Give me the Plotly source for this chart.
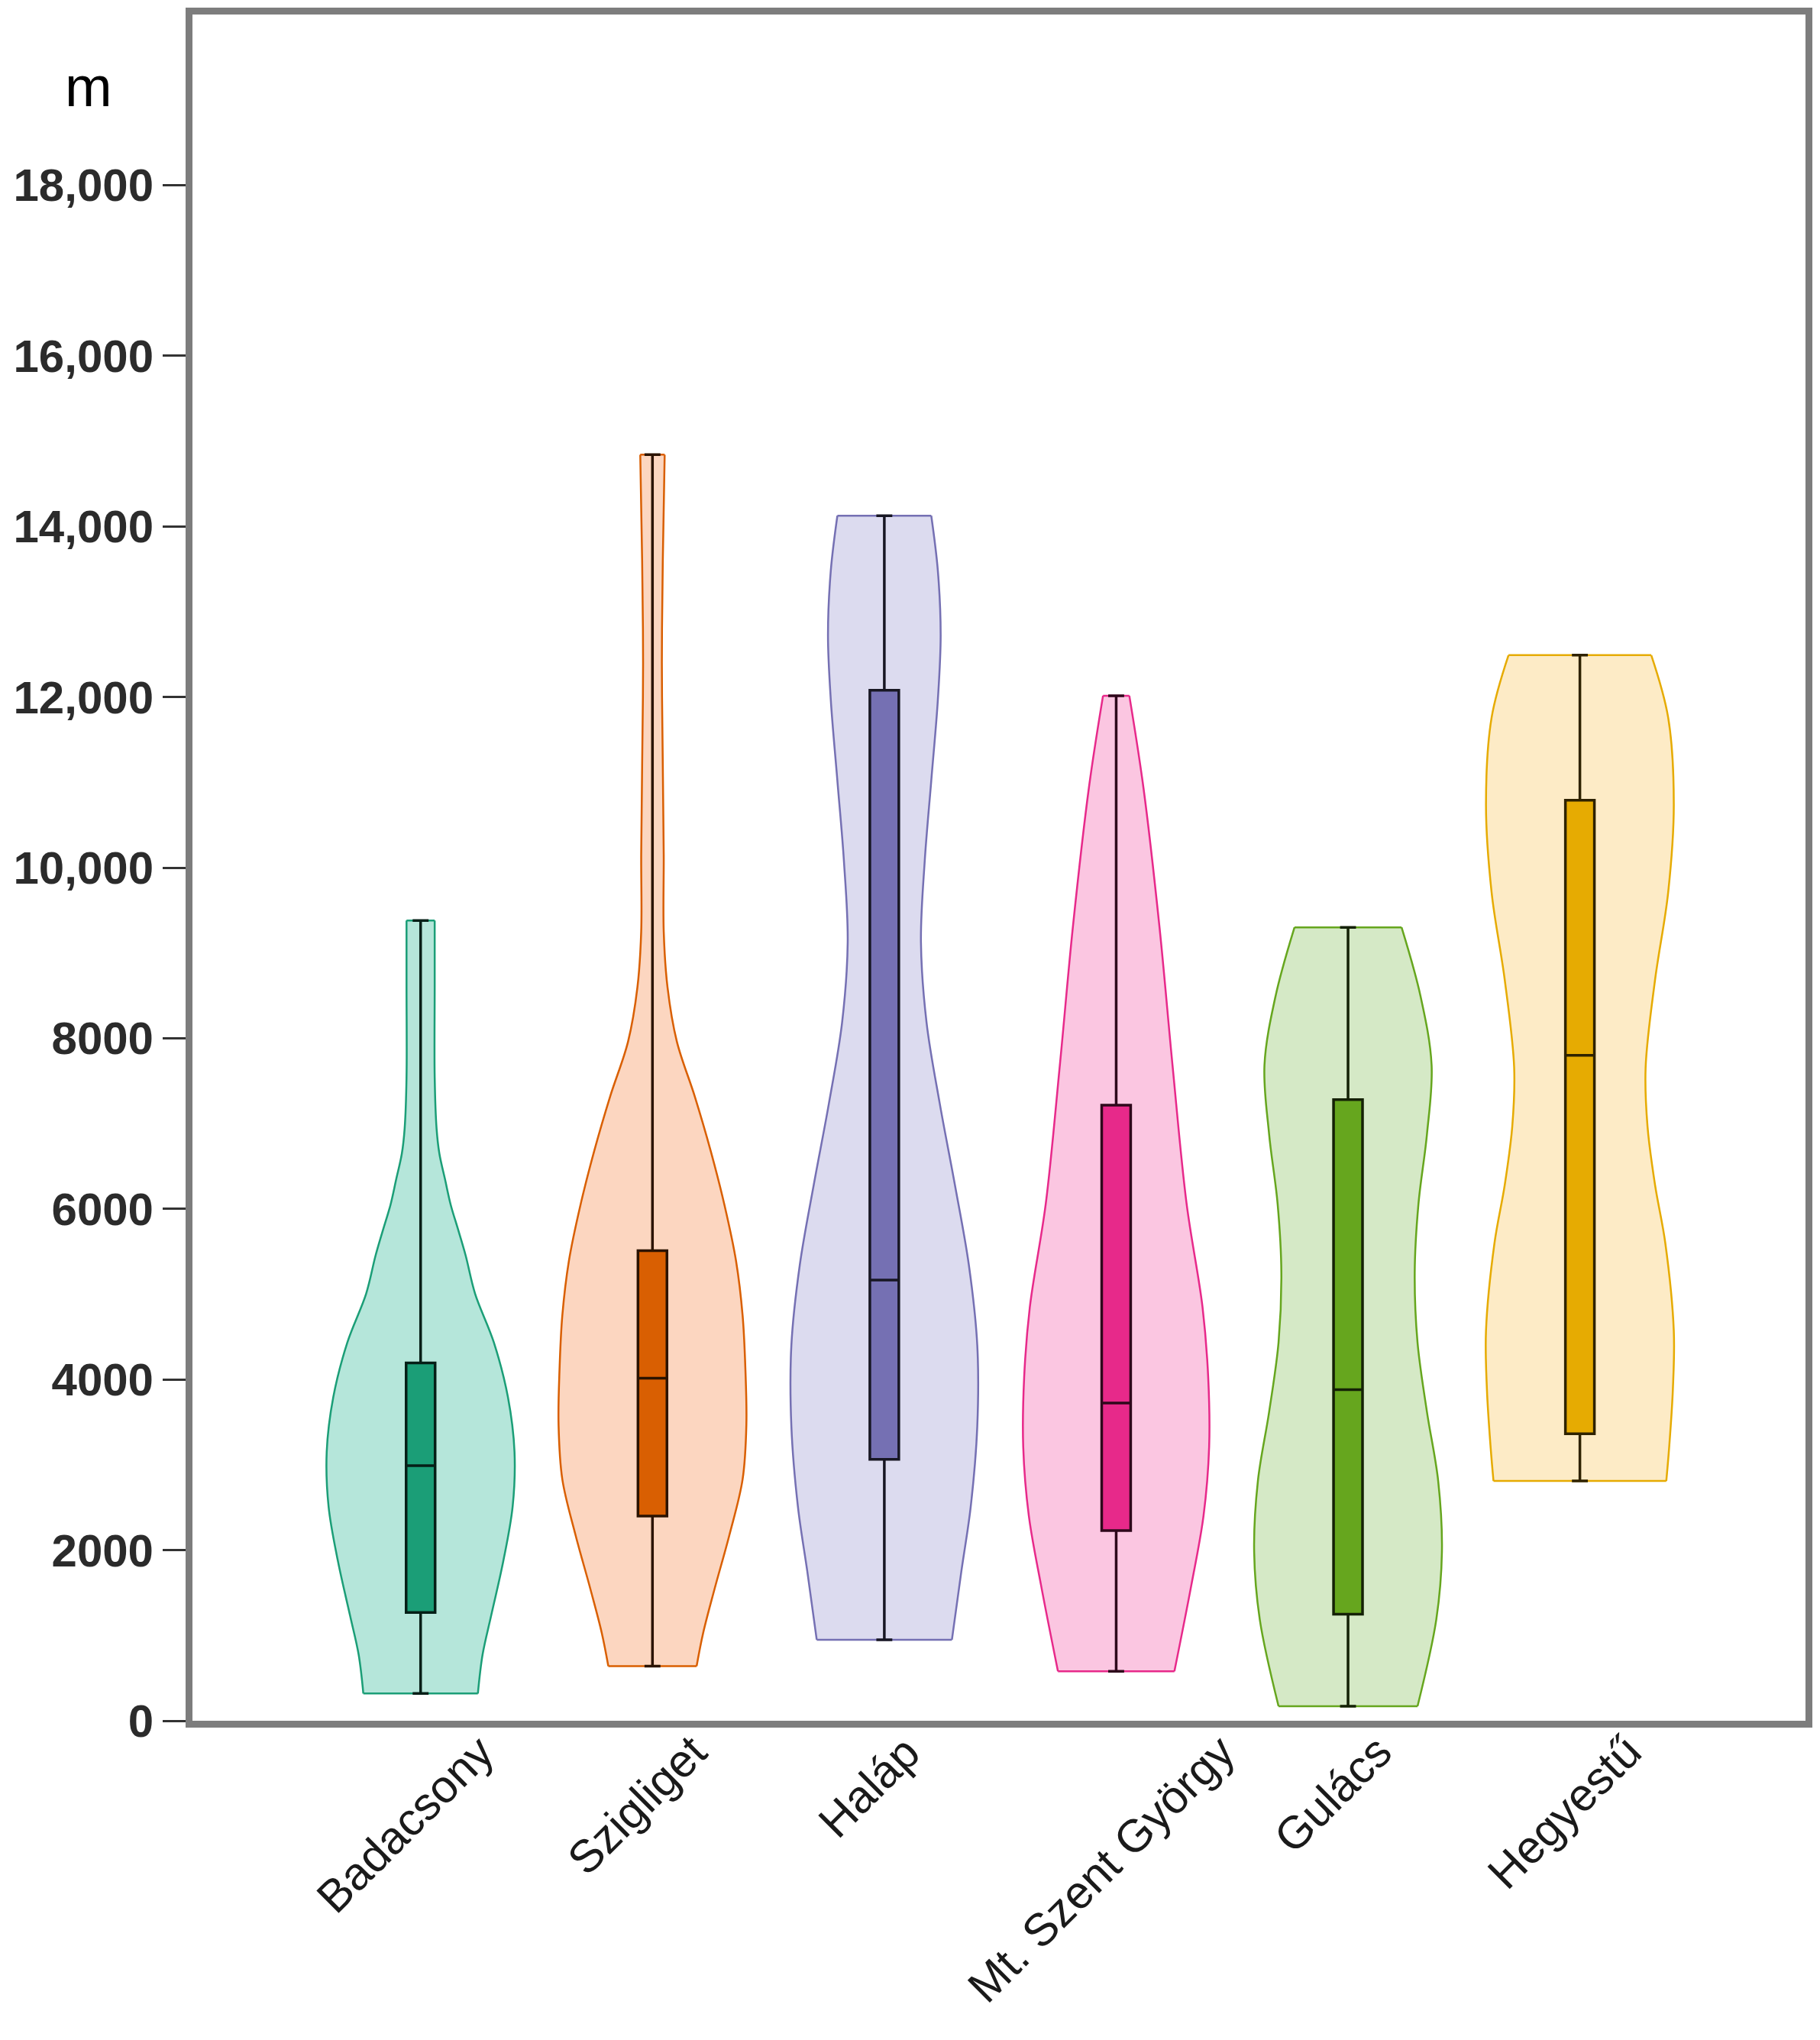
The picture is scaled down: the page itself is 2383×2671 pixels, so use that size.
"""Violin plots of distances per volcanic butte (Tapolca basin)."""

import plotly.graph_objects as go

categories = ["Badacsony", "Szigliget", "Haláp", "Mt. Szent György", "Gulács", "Hegyestű"]
colors = ["#1b9e77", "#d95f02", "#7570b3", "#e7298a", "#66a61e", "#e6ab02"]
violin_fills = ["#b5e6da", "#fcd6c0", "#dcdbef", "#fbc6e1", "#d5e9c6", "#fdebc6"]

# box statistics (m)
whisker_low = [320, 640, 950, 580, 170, 2810]
q1 = [1270, 2400, 3065, 2230, 1250, 3365]
median = [2990, 4015, 5165, 3725, 3880, 7800]
q3 = [4195, 5510, 12080, 7215, 7280, 10790]
whisker_high = [9380, 14840, 14125, 12015, 9300, 12490]

y_ticks = [0, 2000, 4000, 6000, 8000, 10000, 12000, 14000, 16000, 18000]
y_tick_text = ["0", "2000", "4000", "6000", "8000", "10,000", "12,000", "14,000", "16,000", "18,000"]

# violin outlines: level (m) and relative half-width (1 = widest)
badacsony_y = [320, 776, 1226, 1868, 2510, 3151, 3793, 4435, 5006, 5452, 5755, 6050, 6347,
               6647, 6942, 7540, 8600, 9380]
badacsony_w = [0.61, 0.66, 0.75, 0.88, 0.98, 1.0, 0.93, 0.78, 0.58, 0.48, 0.40, 0.32, 0.26,
               0.2, 0.17, 0.15, 0.15, 0.15]

szigliget_y = [640, 1030, 1540, 2180, 2830, 3470, 4110, 4750, 5390, 6030, 6680, 7320, 7960,
               8600, 9250, 10150, 11200, 12400, 13600, 14840]
szigliget_w = [0.47, 0.54, 0.66, 0.82, 0.96, 1.0, 0.99, 0.96, 0.89, 0.77, 0.62, 0.45, 0.26,
               0.16, 0.12, 0.12, 0.11, 0.1, 0.11, 0.13]

halap_y = [950, 1749, 2507, 3453, 4399, 5345, 6291, 7237, 8182, 9128, 10074, 11020, 11966, 12724, 13482, 14125]
halap_w = [0.72, 0.82, 0.92, 0.99, 0.99, 0.9, 0.75, 0.59, 0.45, 0.39, 0.43, 0.5, 0.57, 0.6, 0.57, 0.5]

szentgyorgy_y = [580, 1588, 2400, 3212, 4024, 4845, 6059, 7683, 9316, 10940, 12015]
szentgyorgy_w = [0.62, 0.8, 0.93, 0.99, 0.98, 0.92, 0.75, 0.6, 0.46, 0.29, 0.14]

gulacs_y = [170, 1187, 1999, 2811, 3623, 4435, 5247, 6059, 6871, 7683, 8503, 9300]
gulacs_w = [0.74, 0.94, 1.0, 0.96, 0.84, 0.74, 0.71, 0.75, 0.84, 0.89, 0.77, 0.57]

hegyestu_y = [2810, 3195, 3882, 4569, 5595, 6282, 6969, 7656, 8682, 9708, 10734, 11760, 12490]
hegyestu_w = [0.92, 0.95, 0.99, 1.0, 0.91, 0.8, 0.72, 0.70, 0.8, 0.94, 1.0, 0.94, 0.76]

profiles = [
    (badacsony_y, badacsony_w),
    (szigliget_y, szigliget_w),
    (halap_y, halap_w),
    (szentgyorgy_y, szentgyorgy_w),
    (gulacs_y, gulacs_w),
    (hegyestu_y, hegyestu_w),
]

HALF_WIDTH = 0.405
BOX_WIDTH = 0.125
X_RANGE = [-0.984, 5.973]
Y_RANGE = [0, 20000]
FONT = "Arial, Liberation Sans, sans-serif"
FRAME = dict(showline=True, mirror=True, linecolor="#7d7d7d", linewidth=9,
             showgrid=False, zeroline=False)


def _shade(hex_color, k):
    h = hex_color.lstrip("#")
    r, g, b = (int(h[j:j + 2], 16) for j in (0, 2, 4))
    return f"rgb({int(r * k)},{int(g * k)},{int(b * k)})"


fig = go.Figure()

for i, (color, fill, (levels, widths)) in enumerate(zip(colors, violin_fills, profiles)):
    half = [w * HALF_WIDTH for w in widths]
    side_line = dict(color=color, width=2.5, shape="spline", smoothing=1.0)
    # left and right flanks as open splines, area filled between them
    fig.add_trace(
        go.Scatter(x=[i - h for h in half], y=levels, mode="lines",
                   line=side_line, hoverinfo="skip", showlegend=False)
    )
    fig.add_trace(
        go.Scatter(x=[i + h for h in half], y=levels, mode="lines",
                   line=side_line, fill="tonextx", fillcolor=fill,
                   hoverinfo="skip", showlegend=False)
    )
    # flat ends of the violin
    fig.add_trace(
        go.Scatter(
            x=[i - half[0], i + half[0], None, i - half[-1], i + half[-1]],
            y=[levels[0], levels[0], None, levels[-1], levels[-1]],
            mode="lines",
            line=dict(color=color, width=2.5),
            hoverinfo="skip",
            showlegend=False,
        )
    )

# boxes live on an overlaid copy of the axes so they sit above the violin fills
for i, color in enumerate(colors):
    fig.add_trace(
        go.Box(
            x=[i],
            lowerfence=[whisker_low[i]],
            q1=[q1[i]],
            median=[median[i]],
            q3=[q3[i]],
            upperfence=[whisker_high[i]],
            width=BOX_WIDTH,
            whiskerwidth=0.55,
            fillcolor=color,
            line=dict(color=_shade(color, 0.2), width=3.5),
            boxpoints=False,
            name=categories[i],
            showlegend=False,
            xaxis="x2",
            yaxis="y2",
        )
    )

annotations = [
    dict(
        x=i,
        xref="x",
        y=0,
        yref="paper",
        xanchor="center",
        yanchor="top",
        yshift=-4,
        xshift=-20,
        textangle=-45,
        text=name,
        showarrow=False,
        font=dict(family=FONT, size=60, color="#1a1a1a"),
    )
    for i, name in enumerate(categories)
]
annotations.append(
    dict(
        x=0,
        xref="paper",
        y=1,
        yref="paper",
        xanchor="center",
        yanchor="middle",
        xshift=-136,
        yshift=-94,
        text="m",
        showarrow=False,
        font=dict(family=FONT, size=74, color="#000000"),
    )
)

fig.update_layout(
    width=2367,
    height=2655,
    margin=dict(l=244, r=10, t=2, b=410),
    paper_bgcolor="white",
    plot_bgcolor="white",
    showlegend=False,
    annotations=annotations,
    xaxis=dict(range=X_RANGE, showticklabels=False, ticks="", **FRAME),
    yaxis=dict(
        range=Y_RANGE,
        tickvals=y_ticks,
        ticktext=y_tick_text,
        ticks="outside",
        ticklen=30,
        tickwidth=3,
        tickcolor="#333333",
        tickfont=dict(family=FONT, size=60, color="#2b2b2b", weight="bold"),
        **FRAME,
    ),
    xaxis2=dict(range=X_RANGE, overlaying="x", visible=False),
    yaxis2=dict(range=Y_RANGE, overlaying="y", visible=False),
)

fig.write_html("out.html")
